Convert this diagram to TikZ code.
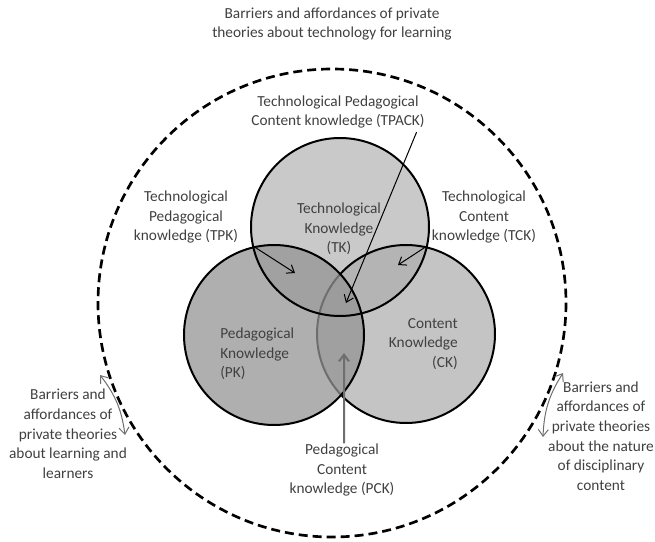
\documentclass[tikz,border=0pt]{standalone}
\usepackage{fontspec}
\setmainfont{Carlito}
\usepackage{tikz}
\usetikzlibrary{arrows.meta, positioning}
\definecolor{labelgray}{RGB}{64,64,64}
\definecolor{tkgray}{RGB}{201,201,201}
\definecolor{ckgray}{RGB}{196,196,196}
\definecolor{tcgray}{RGB}{180,180,180}
\definecolor{pkgray}{RGB}{148,148,148}
\definecolor{arrowgray}{RGB}{110,110,110}

\tikzset{
  lbl/.style={align=center, text=labelgray, font=\fontsize{9.2pt}{11.8pt}\selectfont, inner sep=0pt},
  ring/.style={draw=black, line width=1.2pt},
  pointer/.style={-{Straight Barb[length=4pt,width=6pt]}, line width=0.6pt},
  swing/.style={{Straight Barb[length=4pt,width=6pt]}-{Straight Barb[length=4pt,width=6pt]}, draw=arrowgray, line width=0.6pt},
}

\begin{document}
\begin{tikzpicture}[x=0.6pt, y=-0.6pt]
  \useasboundingbox (0,0) rectangle (655,542);
  % centres of the three domains
  \coordinate (tk) at (340,227);
  \coordinate (pk) at (274,335);
  \coordinate (ck) at (406,334);
  \fill[tkgray] (tk) circle (89);
  \fill[ckgray] (ck) circle (89);
  \begin{scope}
    \clip (tk) circle (89);
    \fill[tcgray] (ck) circle (89);
  \end{scope}
  \draw[ring] (ck) circle (89);
  \fill[pkgray, fill opacity=0.75] (pk) circle (90);
  \draw[ring] (pk) circle (90);
  \draw[ring] (tk) circle (89);
  % surrounding context
  \coordinate (ctx) at (332,303);
  \draw[dash pattern=on 5.4pt off 3pt, line width=1.6pt] (ctx) circle (234);

  % labels
  \node[lbl, font=\fontsize{9.2pt}{11pt}\selectfont] (title) at (332,24) {Barriers and affordances of private\\theories about technology for learning};
  \node[lbl] (tpack) at (338,112) {Technological Pedagogical\\Content knowledge (TPACK)};
  \node[lbl] (tpk) at (186,217) {Technological\\Pedagogical\\knowledge (TPK)};
  \node[lbl] (tck) at (484,217) {Technological\\Content\\knowledge (TCK)};
  \node[lbl] (tklbl) at (339,229) {Technological\\Knowledge\\(TK)};
  \node[lbl, align=left, anchor=west] (pklbl) at (220,354) {Pedagogical\\Knowledge\\(PK)};
  \node[lbl, align=right, anchor=east] (cklbl) at (458,344) {Content\\Knowledge\\(CK)};
  \node[lbl] (pck) at (342,470) {Pedagogical\\Content\\knowledge (PCK)};
  \node[lbl] (learners) at (68,434) {Barriers and\\affordances of\\private theories\\about learning and\\learners};
  \node[lbl] (content) at (601,436) {Barriers and\\affordances of\\private theories\\about the nature\\of disciplinary\\content};

  % pointers into the overlaps
  \coordinate (tpmeet) at (253,246);
  \coordinate (tpin) at (295,273);
  \coordinate (tcmeet) at (427,246);
  \coordinate (tcin) at (398,265);
  \coordinate (core) at (346,303);
  \coordinate (pcin) at (344,353);
  \draw[pointer] (tpmeet) -- (tpin);
  \draw[pointer] (tcmeet) -- (tcin);
  \draw[pointer] ([xshift=-5pt,yshift=-2pt]tpack.south east) -- (core);
  \draw[pointer, draw=arrowgray, line width=1.2pt] ([xshift=1.2pt]pck.north) -- (pcin);

  % two-way arrows across the boundary
  \coordinate (learn-up) at (100,375);
  \coordinate (learn-down) at (125,435);
  \coordinate (disc-up) at (563,373);
  \coordinate (disc-down) at (543,437);
  \draw[swing] (learn-up) to[bend left=15] (learn-down);
  \draw[swing] (disc-up) to[bend right=15] (disc-down);
\end{tikzpicture}
\end{document}
